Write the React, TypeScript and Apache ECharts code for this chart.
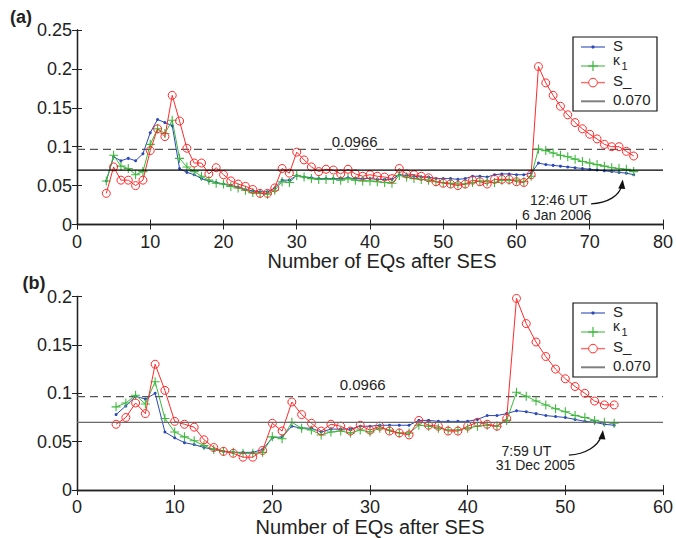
import React, { useEffect, useRef } from "react";
import * as echarts from "echarts";

// ---------- Panel (a) ----------
const eqStartA = 4;
const sA = [
  0.056, 0.087, 0.082, 0.085, 0.082, 0.091, 0.118, 0.135, 0.131, 0.127,
  0.072, 0.067, 0.064, 0.059, 0.056, 0.054, 0.052, 0.050, 0.048, 0.045,
  0.043, 0.042, 0.042, 0.047, 0.057, 0.057, 0.063, 0.061, 0.060, 0.059,
  0.059, 0.059, 0.059, 0.060, 0.059, 0.059, 0.059, 0.058, 0.058, 0.058,
  0.064, 0.063, 0.062, 0.061, 0.061, 0.059, 0.059, 0.059, 0.058, 0.059,
  0.062, 0.062, 0.061, 0.064, 0.065, 0.065, 0.064, 0.064, 0.066, 0.079,
  0.077, 0.076, 0.075, 0.074, 0.073, 0.072, 0.071, 0.070, 0.069, 0.068,
  0.067, 0.066, 0.064,
];
const k1A = [
  0.056, 0.089, 0.075, 0.072, 0.064, 0.068, 0.103, 0.123, 0.117, 0.134,
  0.085, 0.074, 0.068, 0.062, 0.057, 0.053, 0.052, 0.049, 0.047, 0.044,
  0.041, 0.040, 0.039, 0.044, 0.055, 0.054, 0.063, 0.061, 0.059, 0.058,
  0.058, 0.058, 0.057, 0.059, 0.057, 0.056, 0.056, 0.055, 0.054, 0.053,
  0.063, 0.061, 0.059, 0.058, 0.057, 0.055, 0.054, 0.053, 0.052, 0.052,
  0.054, 0.056, 0.055, 0.054, 0.057, 0.057, 0.057, 0.055, 0.062, 0.097,
  0.095, 0.092, 0.089, 0.087, 0.084, 0.081, 0.079, 0.077, 0.075, 0.073,
  0.072, 0.071, 0.068,
];
const sMinusA = [
  0.040, 0.074, 0.057, 0.057, 0.050, 0.057, 0.095, 0.123, 0.113, 0.166,
  0.133, 0.098, 0.079, 0.079, 0.065, 0.073, 0.064, 0.056, 0.052, 0.049,
  0.045, 0.040, 0.040, 0.047, 0.072, 0.066, 0.093, 0.083, 0.074, 0.068,
  0.071, 0.070, 0.065, 0.071, 0.065, 0.062, 0.064, 0.062, 0.061, 0.059,
  0.072, 0.065, 0.064, 0.062, 0.060, 0.055, 0.053, 0.052, 0.050, 0.052,
  0.057, 0.055, 0.052, 0.058, 0.058, 0.058, 0.055, 0.054, 0.064, 0.203,
  0.182, 0.166, 0.152, 0.141, 0.131, 0.123, 0.116, 0.110, 0.103, 0.100,
  0.100, 0.094, 0.088,
];
const xTicksA = { min: 0, max: 80, interval: 10 };
const yTicksA = { min: 0, max: 0.25, interval: 0.05 };

// ---------- Panel (b) ----------
const eqStartB = 4;
const sB = [
  0.078, 0.087, 0.097, 0.094, 0.100, 0.060, 0.054, 0.049, 0.047, 0.044,
  0.042, 0.040, 0.039, 0.039, 0.039, 0.042, 0.054, 0.055, 0.066, 0.064,
  0.064, 0.060, 0.063, 0.063, 0.063, 0.066, 0.066, 0.067, 0.067, 0.067,
  0.067, 0.072, 0.072, 0.071, 0.071, 0.071, 0.071, 0.073, 0.077, 0.077,
  0.079, 0.082, 0.081, 0.079, 0.077, 0.076, 0.075, 0.073, 0.071, 0.070,
  0.068, 0.067,
];
const k1B = [
  0.086, 0.090, 0.098, 0.089, 0.112, 0.074, 0.060, 0.055, 0.051, 0.046,
  0.042, 0.040, 0.039, 0.038, 0.038, 0.039, 0.055, 0.053, 0.070, 0.064,
  0.062, 0.057, 0.060, 0.061, 0.059, 0.062, 0.060, 0.064, 0.062, 0.059,
  0.059, 0.067, 0.066, 0.064, 0.062, 0.062, 0.064, 0.066, 0.067, 0.066,
  0.072, 0.101, 0.097, 0.092, 0.088, 0.084, 0.081, 0.077, 0.075, 0.072,
  0.070, 0.069,
];
const sMinusB = [
  0.068, 0.075, 0.090, 0.079, 0.130, 0.103, 0.071, 0.068, 0.065, 0.052,
  0.044, 0.040, 0.038, 0.034, 0.034, 0.041, 0.069, 0.061, 0.091, 0.078,
  0.069, 0.061, 0.068, 0.066, 0.061, 0.067, 0.062, 0.066, 0.061, 0.059,
  0.057, 0.072, 0.067, 0.066, 0.061, 0.061, 0.066, 0.070, 0.068, 0.066,
  0.074, 0.198, 0.172, 0.153, 0.138, 0.125, 0.115, 0.107, 0.100, 0.092,
  0.088, 0.088,
];
const xTicksB = { min: 0, max: 60, interval: 10 };
const yTicksB = { min: 0, max: 0.2, interval: 0.05 };

// ---------- thresholds & annotations ----------
const thresholdSolid = 0.07;
const thresholdDashed = 0.0966;
const dashedLabel = "0.0966";
const legendLabels = ["S", "κ", "1", "S_", "0.070"];
const axisTitle = "Number of EQs after SES";
const noteA = ["12:46 UT", "6 Jan 2006"];
const noteB = ["7:59 UT", "31 Dec 2005"];
const noteTipA = [74.5, 0.058];
const noteTipB = [53.85, 0.062];
const dashedLabelPosA = [37.9, 0.107];
const dashedLabelPosB = [29.25, 0.109];

const FONT = "'Liberation Sans', Arial, Helvetica, sans-serif";
const AX = "#222";
const BLUE = "#2b48b8";
const GREEN = "#3db83d";
const RED = "#ff2a2a";
const PLUS = "path://M4.4,0H5.6V4.4H10V5.6H5.6V10H4.4V5.6H0V4.4H4.4Z";

const toPairs = (start: number, arr: number[]) => arr.map((v, i) => [start + i, v]);

export default function App() {
  const ref = useRef<HTMLDivElement>(null);
  useEffect(() => {
    const chart = echarts.init(ref.current!, null, { renderer: "svg" });

    const grids = [
      { left: 77, top: 30, width: 586.5, height: 194.5 },
      { left: 77, top: 296.5, width: 586.5, height: 196 },
    ];
    const axisLine = { show: true, lineStyle: { color: AX, width: 1.3 } };
    const axisTick = { show: true, inside: true, length: 5, lineStyle: { color: AX, width: 1 } };
    const label = { fontSize: 18, color: AX, fontFamily: FONT };

    const mkX = (g: number, t: any, shift: number) => [
      {
        type: "value", gridIndex: g, position: "bottom", ...t,
        axisLine, axisTick, splitLine: { show: false },
        axisLabel: { ...label, margin: 8 },
        name: axisTitle, nameLocation: "middle", nameGap: 22,
        nameTextStyle: { fontSize: 20, color: AX, fontFamily: FONT, padding: [0, 0, 0, shift] },
      },
      {
        type: "value", gridIndex: g, position: "top", ...t,
        axisLine, axisTick, splitLine: { show: false }, axisLabel: { show: false },
      },
    ];
    const mkY = (g: number, t: any) => [
      {
        type: "value", gridIndex: g, position: "left", ...t,
        axisLine, axisTick, splitLine: { show: false },
        axisLabel: { ...label, margin: 5 },
      },
      {
        type: "value", gridIndex: g, position: "right", ...t,
        axisLine, axisTick, splitLine: { show: false }, axisLabel: { show: false },
      },
    ];

    const mkSeries = (
      xi: number, yi: number, start: number,
      s: number[], k: number[], m: number[], xt: any, solidColor: string,
    ) => [
      {
        type: "line", name: "S", xAxisIndex: xi, yAxisIndex: yi,
        data: toPairs(start, s), symbol: "circle", symbolSize: 3,
        lineStyle: { color: BLUE, width: 1 }, itemStyle: { color: BLUE },
        z: 3,
      },
      {
        type: "line", name: "κ1", xAxisIndex: xi, yAxisIndex: yi,
        data: toPairs(start, k), symbol: PLUS, symbolSize: 9,
        lineStyle: { color: GREEN, width: 1 }, itemStyle: { color: GREEN },
        z: 4,
      },
      {
        type: "line", name: "S_", xAxisIndex: xi, yAxisIndex: yi,
        data: toPairs(start, m), symbol: "circle", symbolSize: 8,
        lineStyle: { color: RED, width: 1 },
        itemStyle: { color: "rgba(255,255,255,0)", borderColor: RED, borderWidth: 1 },
        z: 5,
      },
      {
        type: "line", name: "0.070", xAxisIndex: xi, yAxisIndex: yi,
        data: [[xt.min, thresholdSolid], [xt.max, thresholdSolid]],
        symbol: "none", lineStyle: { color: solidColor, width: 1.2 }, z: 6,
      },
      {
        type: "line", name: "dashed", xAxisIndex: xi, yAxisIndex: yi,
        data: [[xt.min, thresholdDashed], [xt.max, thresholdDashed]],
        symbol: "none", lineStyle: { color: "#555", width: 1.2, type: [8, 5] },
        z: 2,
      },
    ];

    chart.setOption({
      animation: false,
      grid: grids,
      xAxis: [...mkX(0, xTicksA, 24), ...mkX(1, xTicksB, 0)],
      yAxis: [...mkY(0, yTicksA), ...mkY(1, yTicksB)],
      series: [
        ...mkSeries(0, 0, eqStartA, sA, k1A, sMinusA, xTicksA, "#000"),
        ...mkSeries(2, 2, eqStartB, sB, k1B, sMinusB, xTicksB, "#6a6a6a"),
      ],
    });

    const pA = (p: number[]) => chart.convertToPixel({ gridIndex: 0 }, p) as number[];
    const pB = (p: number[]) => chart.convertToPixel({ gridIndex: 1 }, p) as number[];

    const txt = (s: string, x: number, y: number, size = 15, extra: any = {}) => ({
      type: "text", x, y, silent: true, z: 100,
      style: { text: s, fontSize: size, fontFamily: FONT, fill: AX, align: "center", verticalAlign: "middle", ...extra },
    });

    const arrow = (tip: number[], st: number[], c1: number[], c2: number[], en: number[]) => [
      {
        type: "bezierCurve", silent: true, z: 100,
        shape: {
          x1: tip[0] + st[0], y1: tip[1] + st[1],
          cpx1: tip[0] + c1[0], cpy1: tip[1] + c1[1],
          cpx2: tip[0] + c2[0], cpy2: tip[1] + c2[1],
          x2: tip[0] + en[0], y2: tip[1] + en[1],
        },
        style: { stroke: "#111", lineWidth: 1.3, fill: "none" },
      },
      {
        type: "polygon", silent: true, z: 100,
        shape: { points: [[tip[0], tip[1]], [tip[0] - 4.5, tip[1] + 9], [tip[0] + 2.5, tip[1] + 9.5]] },
        style: { fill: "#111" },
      },
    ];

    // hand-drawn legend box (MATLAB style)
    const legend = (left: number, top: number) => {
      const lx1 = left + 8, lx2 = left + 32, mx = left + 20, tx = left + 40;
      const rows = [top + 10, top + 29, top + 45.6, top + 64.3];
      const ln = (y: number, c: string, w = 1.4) => ({
        type: "line", silent: true, z: 101,
        shape: { x1: lx1, y1: y, x2: lx2, y2: y },
        style: { stroke: c, lineWidth: w },
      });
      return [
        {
          type: "rect", silent: true, z: 100,
          shape: { x: left, y: top, width: 84, height: 74 },
          style: { fill: "#fff", stroke: "#111", lineWidth: 1.2 },
        },
        ln(rows[0], "#5a72c8"),
        { type: "circle", silent: true, z: 102, shape: { cx: mx, cy: rows[0], r: 1.6 }, style: { fill: BLUE } },
        ln(rows[1], "#72c872"),
        { type: "line", silent: true, z: 102, shape: { x1: mx - 5, y1: rows[1], x2: mx + 5, y2: rows[1] }, style: { stroke: GREEN, lineWidth: 1.2 } },
        { type: "line", silent: true, z: 102, shape: { x1: mx, y1: rows[1] - 5, x2: mx, y2: rows[1] + 5 }, style: { stroke: GREEN, lineWidth: 1.2 } },
        ln(rows[2], "#ff6a6a"),
        { type: "circle", silent: true, z: 102, shape: { cx: mx, cy: rows[2], r: 4.3 }, style: { fill: "#fff", stroke: RED, lineWidth: 1 } },
        ln(rows[3], "#808080", 2),
        txt(legendLabels[0], tx, top + 8, 15, { align: "left" }),
        txt(legendLabels[1], tx, top + 23, 14, { align: "left" }),
        txt(legendLabels[2], tx + 8.5, top + 29, 11, { align: "left" }),
        txt(legendLabels[3], tx, top + 43, 15, { align: "left" }),
        txt(legendLabels[4], tx, top + 62.3, 15, { align: "left" }),
      ];
    };

    const tA = pA(noteTipA);
    const tB = pB(noteTipB);
    const dA = pA(dashedLabelPosA);
    const dB = pB(dashedLabelPosB);

    chart.setOption({
      graphic: [
        txt("(a)", 21, 17, 18, { fontWeight: "bold" }),
        txt("(b)", 34, 283, 18, { fontWeight: "bold" }),
        txt(dashedLabel, dA[0], dA[1], 15),
        txt(dashedLabel, dB[0], dB[1], 15),
        txt(noteA[0], tA[0] - 64, tA[1] + 21, 14),
        txt(noteA[1], tA[0] - 66, tA[1] + 35.5, 14),
        txt(noteB[0], tB[0] - 76.5, tB[1] + 20.5, 14),
        txt(noteB[1], tB[0] - 67.5, tB[1] + 35, 14),
        ...arrow(tA, [-31.6, 24.4], [-15, 24], [-3, 16], [-1, 6]),
        ...arrow(tB, [-34, 25], [-17, 24], [-5, 16], [-1.5, 6]),
        ...legend(573, 37),
        ...legend(573, 303),
      ],
    });

    return () => chart.dispose();
  }, []);
  return <div ref={ref} style={{ position: "absolute", left: 0, top: 0, width: 676, height: 538 }} />;
}
